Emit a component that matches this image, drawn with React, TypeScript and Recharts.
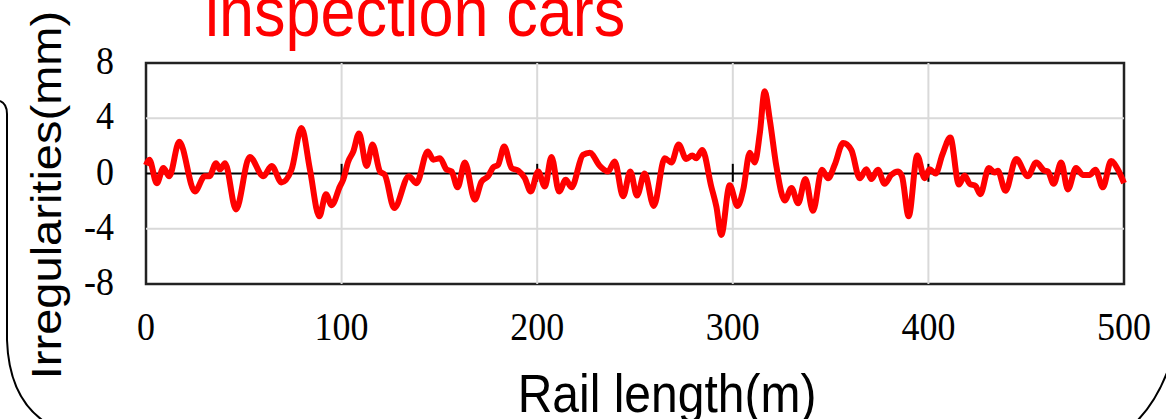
import React from "react";
import {
  LineChart,
  Line,
  XAxis,
  YAxis,
  ReferenceLine,
  ReferenceArea,
} from "recharts";

// distance along the rail (m) and measured irregularity (mm)
const distance = [
  0, 1.7, 5.5, 8.9, 11.9, 17, 25, 30, 32.4, 35.8, 37.8, 40.4, 46, 53, 60, 64.2,
  69.3, 74.4, 79.5, 83.8, 88.6, 92, 94.9, 99.1, 100.8, 103.4, 106, 108.9, 112.8,
  115.8, 119.6, 122.1, 126.9, 134.4, 138.3, 144, 146.9, 150.3, 153.6, 156.2,
  159.3, 163, 168.1, 171.5, 174.9, 177.5, 180, 183.1, 186.9, 190.3, 193.7,
  196.7, 200.5, 203.9, 207.3, 211.2, 214.6, 217.5, 223.4, 226.9, 232, 236.2,
  239.6, 243.9, 247.6, 251, 254.9, 259.6, 265.2, 268.6, 272.3, 276.2, 279.3,
  281.3, 284.4, 289, 291.6, 294.1, 298.4, 302.4, 305.3, 308.7, 311.2, 313.8,
  316.3, 318.9, 322.3, 326.6, 330, 333.4, 337.1, 341, 345.6, 348.7, 352.1,
  356.4, 360.6, 364.9, 368.3, 370.8, 374.2, 377.6, 381, 384.5, 386.5, 389.9,
  394.3, 398.1, 400.6, 403.7, 407.1, 411.2, 415.6, 418.5, 421.1, 424.1, 426.5,
  430.9, 433.8, 435.5, 439.4, 444.9, 450.8, 455.1, 459.4, 461.1, 464, 467.9,
  471.3, 475.5, 478.9, 482.4, 485.4, 489.2, 493.4, 496.8, 500,
];

const irregularity = [
  0.6, 1.0, -0.7, 0.4, -0.2, 2.3, -1.3, -0.2, -0.2, 0.75, 0.3, 0.75, -2.6, 1.2,
  -0.2, 0.55, -0.65, 0.27, 3.3, 0.3, -3.1, -1.5, -2.3, -0.95, -0.45, 0.87, 1.6,
  2.9, 0.55, 2.1, 0.15, -0.1, -2.5, -0.2, -0.7, 1.6, 1.0, 1.1, 0.3, 0.15, -1.0,
  0.8, -1.9, -0.6, -0.2, 0.45, 0.63, 1.95, 0.4, 0.2, -0.35, -1.3, 0.15, -0.95,
  1.2, -1.3, -0.45, -1.0, 1.35, 1.5, 0.55, 0.15, 0.87, -1.65, 0.15, -1.6, 0.0,
  -2.35, 1.1, 0.8, 2.1, 1.05, 1.3, 1.1, 1.7, -0.95, -2.4, -4.45, -0.85, -2.35,
  -1.2, 1.5, 0.8, 2.9, 5.95, 3.9, 0.5, -1.95, -1.05, -2.15, -0.4, -2.7, 0.27,
  -0.35, 0.63, 2.2, 1.7, -0.35, 0.3, -0.4, 0.27, -0.75, -0.1, 0.15, -0.2, -3.1,
  1.3, -0.35, 0.3, 0, 1.35, 2.6, -0.8, -0.15, -0.75, -0.9, -1.5, 0.4, 0.07,
  0.2, -1.25, 1.05, -0.2, 0.8, 0.2, 0.15, -0.75, 0.8, -1.15, 0.4, -0.1, -0.1,
  0.27, -1.0, 0.9, 0.3, -0.7,
];

const xTicks = [0, 100, 200, 300, 400, 500];
const yTicks = [-8, -4, 0, 4, 8];
const gridX = [100, 200, 300, 400];
const gridY = [-4, 4];

const data = distance.map((d, i) => ({ d, v: irregularity[i] }));

const serif = "'Liberation Serif', 'Times New Roman', serif";
const sans = "'Liberation Sans', Arial, sans-serif";
const STRETCH = 1.12;

const XTick = (props: any) => {
  const { x, y, payload } = props;
  return (
    <text
      transform={`translate(${x},${y + 48}) scale(1,${STRETCH})`}
      textAnchor="middle"
      fontFamily={serif}
      fontSize={36}
      fill="#000"
    >
      {payload.value}
    </text>
  );
};

const YTick = (props: any) => {
  const { x, y, payload } = props;
  return (
    <text
      transform={`translate(${x - 24},${y + 11}) scale(1,${STRETCH})`}
      textAnchor="end"
      fontFamily={serif}
      fontSize={36}
      fill="#000"
    >
      {payload.value}
    </text>
  );
};

export default function App() {
  return (
    <div style={{ position: "absolute", left: 0, top: 0, width: 1166, height: 419, background: "#fff", overflow: "hidden" }}>
      <LineChart
        width={1166}
        height={419}
        data={data}
        margin={{ top: 63, right: 42, bottom: 75, left: 0 }}
      >
        <XAxis
          dataKey="d"
          type="number"
          domain={[0, 500]}
          ticks={xTicks}
          axisLine={false}
          tickLine={false}
          height={60}
          tick={<XTick />}
        />
        <YAxis
          type="number"
          domain={[-8, 8]}
          ticks={yTicks}
          axisLine={false}
          tickLine={false}
          width={146}
          tick={<YTick />}
        />
        {gridX.map((g) => (
          <ReferenceLine key={"gx" + g} x={g} stroke="#d9d9d9" strokeWidth={2} />
        ))}
        {gridY.map((g) => (
          <ReferenceLine key={"gy" + g} y={g} stroke="#d9d9d9" strokeWidth={2} />
        ))}
        <ReferenceLine y={0} stroke="#000" strokeWidth={2} />
        {gridX.map((g) => (
          <ReferenceLine
            key={"tk" + g}
            segment={[
              { x: g, y: -0.6 },
              { x: g, y: 0.7 },
            ]}
            stroke="#000"
            strokeWidth={2}
          />
        ))}
        <ReferenceArea
          x1={0}
          x2={500}
          y1={-8}
          y2={8}
          fill="none"
          stroke="#222"
          strokeWidth={2.5}
          ifOverflow="visible"
        />
        <Line
          type="monotone"
          dataKey="v"
          stroke="#ff0000"
          strokeWidth={6}
          dot={false}
          isAnimationActive={false}
        />
      </LineChart>
      <svg
        width={1166}
        height={419}
        style={{ position: "absolute", left: 0, top: 0, pointerEvents: "none" }}
      >
        {/* rounded callout frame */}
        <path
          d="M 0 101 Q 7 104 7 114 L 7 340 Q 9 400 48 424"
          fill="none"
          stroke="#000"
          strokeWidth={2}
        />
        <path d="M 1168 370 Q 1156 402 1136 422" fill="none" stroke="#000" strokeWidth={2} />
        <text
          transform={`translate(205,36) scale(1,${STRETCH})`}
          fontFamily={sans}
          fontSize={63}
          fill="#ff0000"
        >
          inspection cars
        </text>
        <text
          transform={`translate(61,195) rotate(-90) scale(1.12,1)`}
          textAnchor="middle"
          fontFamily={sans}
          fontSize={42}
          fill="#000"
        >
          Irregularities(mm)
        </text>
        <text
          transform={`translate(667,412) scale(1,${STRETCH})`}
          textAnchor="middle"
          fontFamily={sans}
          fontSize={48}
          fill="#000"
        >
          Rail length(m)
        </text>
      </svg>
    </div>
  );
}
